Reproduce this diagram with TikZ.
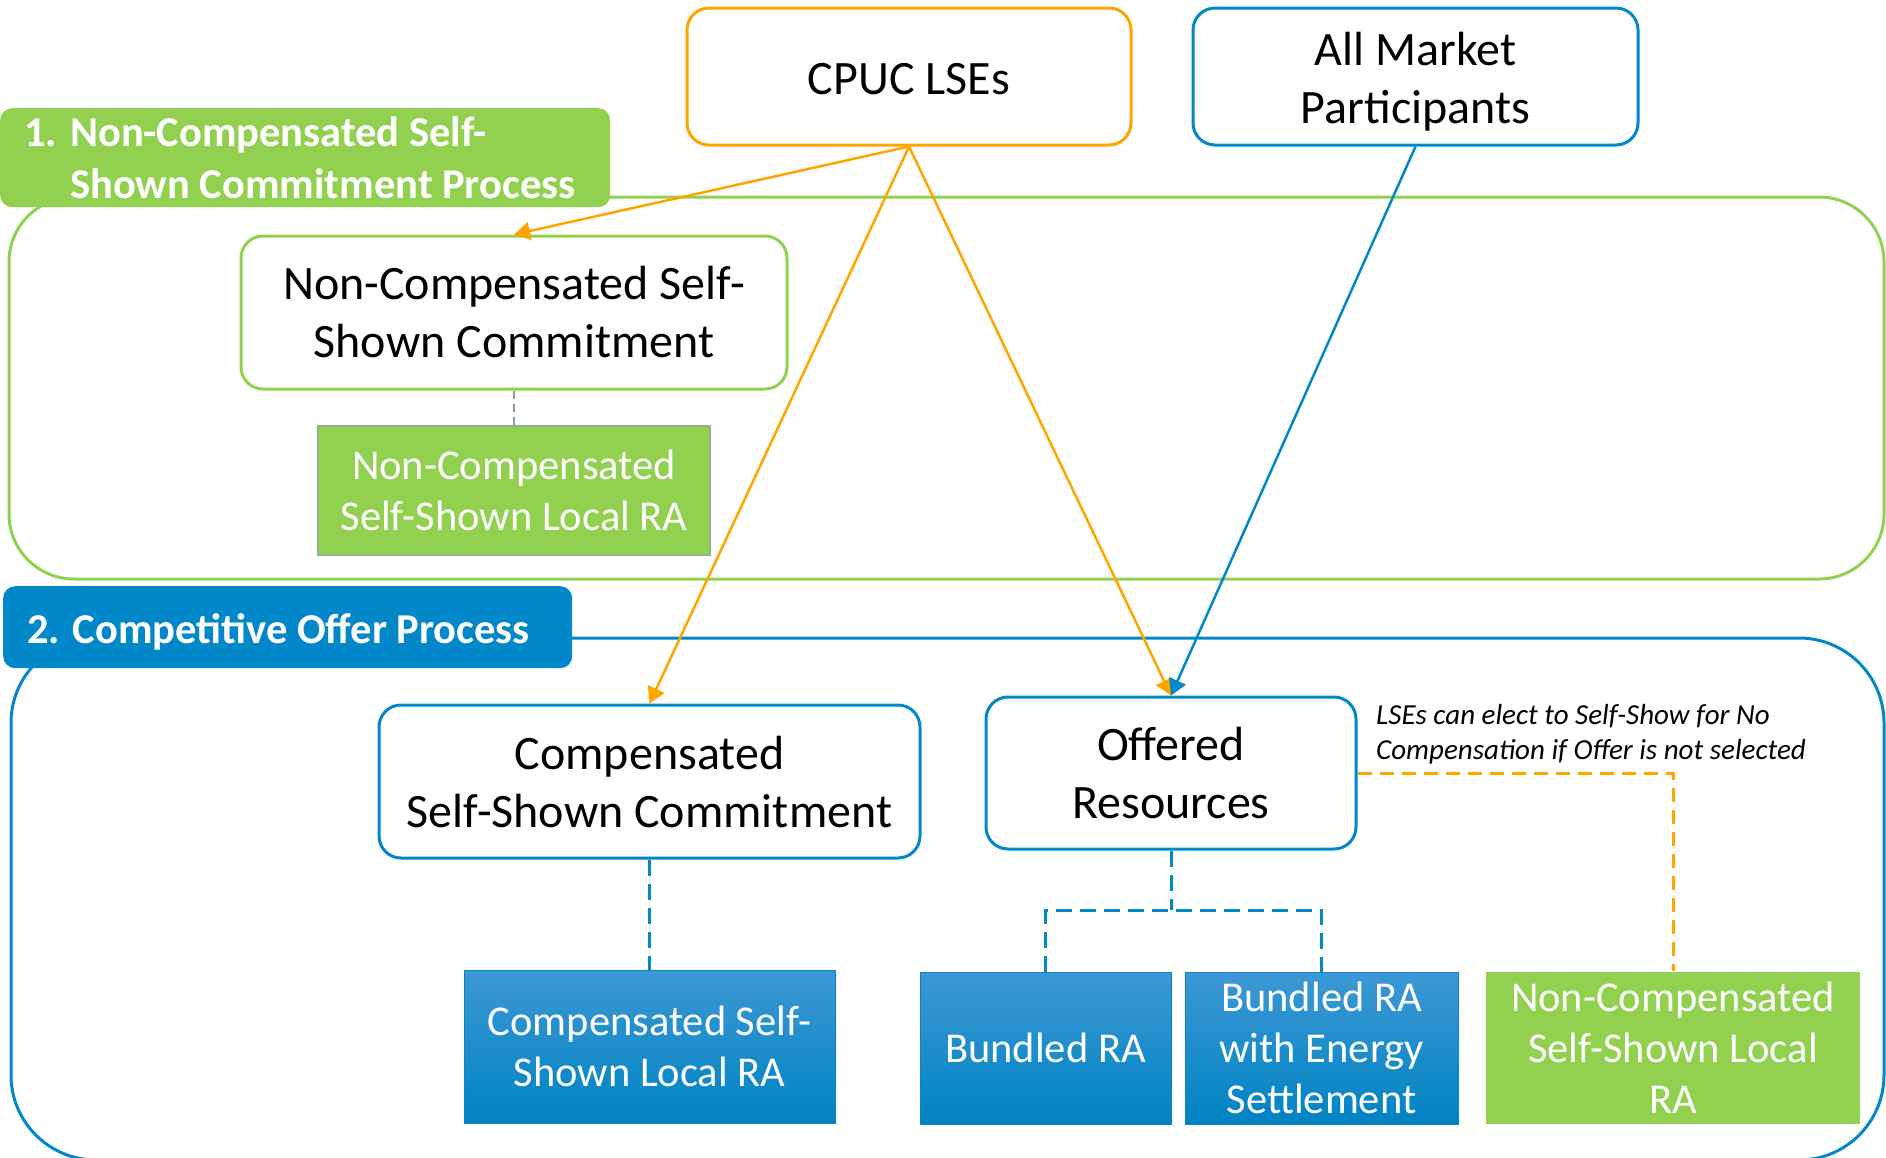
\documentclass[tikz,border=0pt]{standalone}
\usepackage{fontspec}
\setmainfont{Carlito}
\usetikzlibrary{arrows.meta}
\definecolor{cOrange}{HTML}{FFA500}
\definecolor{cBlue}{HTML}{0288C8}
\definecolor{cGreen}{HTML}{92D050}
\definecolor{cBlueTop}{HTML}{3D98D4}
\definecolor{cBlueBot}{HTML}{0083C3}
\definecolor{cGreenEdge}{HTML}{8DB58D}
\definecolor{cGrey}{HTML}{7F9F8F}

\begin{document}
\begin{tikzpicture}[x=1pt,y=-1pt,
  whitebox/.style={rectangle, rounded corners=22pt, line width=3pt, fill=white,
    align=center, inner sep=0pt, text=black, font=\fontsize{48}{58}\selectfont},
  plaintext/.style={inner sep=0pt, align=center, text=black,
    font=\fontsize{48}{58}\selectfont},
  greenbox/.style={rectangle, fill=cGreen, draw=cGreenEdge, line width=1.5pt,
    align=center, inner sep=0pt, text=white, font=\fontsize{42.5}{51}\selectfont},
  bluebox/.style={rectangle, top color=cBlueTop, bottom color=cBlueBot, draw=cBlue,
    line width=1pt, align=center, inner sep=0pt, text=white,
    font=\fontsize{42.5}{51}\selectfont},
  labelbox/.style={rectangle, rounded corners=12pt, inner sep=0pt, anchor=north west},
  labeltext/.style={inner sep=0pt, anchor=west, align=left, text=white,
    font=\bfseries\fontsize{42.5}{52}\selectfont},
  oarrow/.style={cOrange, line width=2.5pt, -{Triangle[length=16pt,width=18pt]}},
  barrow/.style={cBlue, line width=2.5pt, -{Triangle[length=16pt,width=18pt]}},
  bdash/.style={cBlue, line width=3pt, dash pattern=on 16pt off 8pt},
  odash/.style={cOrange, line width=3pt, dash pattern=on 14pt off 8pt},
  gdash/.style={cGrey, line width=1.5pt, dash pattern=on 8pt off 5pt}
]
\useasboundingbox (0,0) rectangle (1886,1157);
\clip (0,0) rectangle (1886,1157);

% process containers
\draw[cGreen, line width=3pt, rounded corners=65pt] (9,197) rectangle (1884,579);
\draw[cBlue, line width=3pt, rounded corners=85pt] (11,638) rectangle (1884,1160);

% process labels
\node[labelbox, fill=cGreen, minimum width=610pt, minimum height=99pt] (lab1) at (0,108) {};
\node[labeltext] (lab1txt) at (24,158)
  {\makebox[46pt][l]{1.}Non-Compensated Self-\\\hspace*{46pt}Shown Commitment Process};
\node[labelbox, fill=cBlue, minimum width=569pt, minimum height=82pt] (lab2) at (3,586) {};
\node[labeltext] (lab2txt) at (27,632)
  {2. Competitive Offer Process};

% sources
\node[whitebox, draw=cOrange, minimum width=444pt, minimum height=137pt] (cpuc) at (909,76.5) {};
\node[plaintext] (cpuctxt) at (909,79) {CPUC LSEs};
\node[whitebox, draw=cBlue, minimum width=445pt, minimum height=137pt] (amp) at (1415.5,76.5) {};
\node[plaintext] (amptxt) at (1415.5,81.5) {All Market\\Participants};

% non-compensated process
\node[whitebox, draw=cGreen, minimum width=546pt, minimum height=153pt] (ncssc) at (514,312.5)
  {Non-Compensated Self-\\Shown Commitment};
\node[greenbox, minimum width=392pt, minimum height=129pt] (ncla) at (514,490.5)
  {Non-Compensated\\Self-Shown Local RA};

% competitive offer process
\node[whitebox, draw=cBlue, minimum width=541pt, minimum height=153pt] (cssc) at (649.5,781.5)
  {Compensated\\Self-Shown Commitment};
\node[bluebox, minimum width=371pt, minimum height=153pt] (cla) at (649.5,1046.5)
  {Compensated Self-\\Shown Local RA};
\node[whitebox, draw=cBlue, minimum width=370pt, minimum height=152pt] (offer) at (1171,773)
  {Offered\\Resources};
\node[bluebox, minimum width=251pt, minimum height=152pt] (bra) at (1045.5,1048) {Bundled RA};
\node[bluebox, minimum width=273pt, minimum height=152pt] (braes) at (1321.5,1048)
  {Bundled RA\\with Energy\\Settlement};
\node[greenbox, draw=none, minimum width=374pt, minimum height=152pt] (nclb) at (1673,1048)
  {Non-Compensated\\Self-Shown Local\\RA};

\node[inner sep=0pt, anchor=west, align=left, font=\itshape\fontsize{29}{35}\selectfont] (note) at (1376,734)
  {LSEs can elect to Self-Show for No\\Compensation if Offer is not selected};

% connectors
\draw[oarrow] (cpuc.south) -- (ncssc.north);
\draw[oarrow] (cpuc.south) -- (cssc.north);
\draw[oarrow] (cpuc.south) -- (offer.north);
\draw[barrow] (amp.south) -- (offer.north);

\draw[gdash] (ncssc.south) -- (ncla.north);
\draw[bdash] (cssc.south) -- (cla.north);
\coordinate (split) at (1171,910);
\draw[bdash] (offer.south) -- (split);
\draw[bdash] (bra.north) |- (split) -| (braes.north);
\draw[odash] (offer.east) -| (nclb.north);
\end{tikzpicture}
\end{document}
